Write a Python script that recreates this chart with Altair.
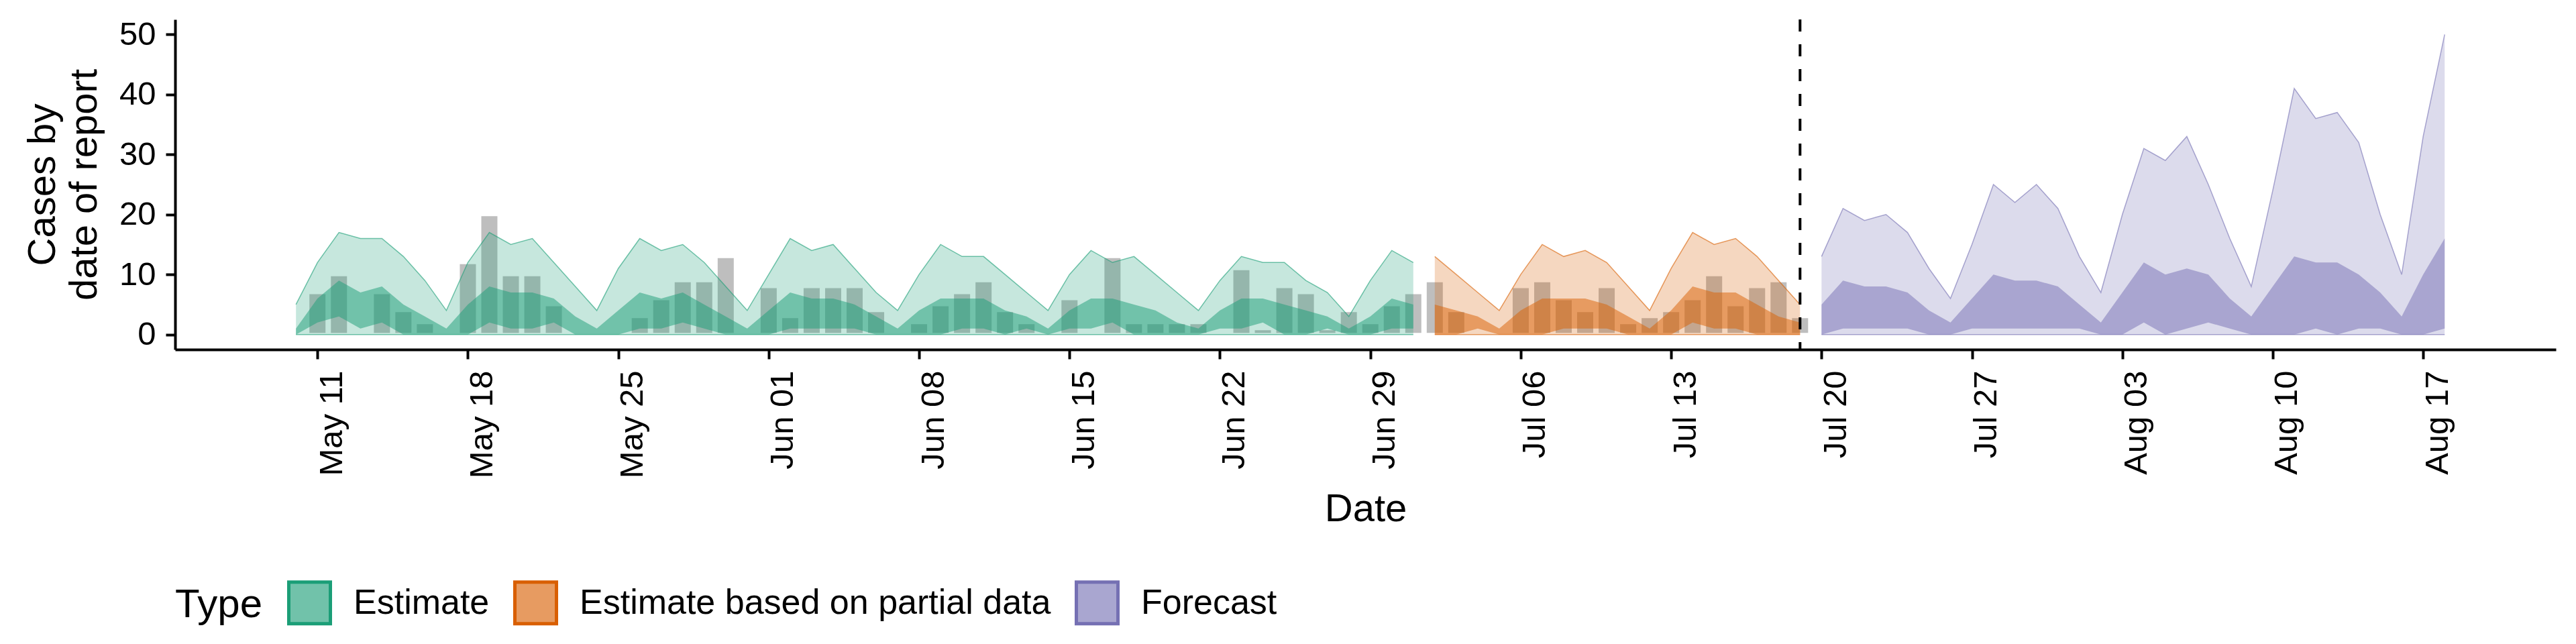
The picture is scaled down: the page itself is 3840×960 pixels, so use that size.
import pandas as pd
import altair as alt

# ---- data ----
type_names = ["Estimate", "Estimate based on partial data", "Forecast"]
dark_cols = ["#1b9e77", "#d95f02", "#7570b3"]
key_cols = ["#71c2aa", "#e79b61", "#a9a6d0"]

# reported cases (grey bars), 10 May - 19 Jul 2020
confirm = [0,
           7, 10, 0, 7, 4, 2, 0, 12, 20, 10,
           10, 5, 0, 0, 0, 3, 6, 9, 9, 13,
           0, 8, 3, 8, 8, 8, 4, 0, 2, 5,
           7, 9, 4, 2, 0, 6, 0, 13, 2, 2,
           2, 2, 0, 11, 1, 8, 7, 1, 4, 2,
           5, 7, 9, 4, 0, 0, 8, 9, 6, 4,
           8, 2, 3, 4, 6, 10, 5, 8, 9, 3]

# Estimate, 10 May - 1 Jul
est_hi90 = [5,
            12, 17, 16, 16, 13, 9, 4, 12, 17, 15,
            16, 12, 8, 4, 11, 16, 14, 15, 12, 8,
            4, 10, 16, 14, 15, 11, 7, 4, 10, 15,
            13, 13, 10, 7, 4, 10, 14, 12, 13, 10,
            7, 4, 9, 13, 12, 12, 9, 7, 3, 9,
            14, 12]
est_hi50 = [1,
            6, 9, 7, 8, 5, 3, 1, 5, 8, 7,
            7, 6, 3, 1, 4, 7, 6, 7, 5, 3,
            1, 4, 7, 6, 6, 5, 3, 1, 4, 6,
            6, 6, 4, 3, 1, 4, 6, 6, 5, 4,
            2, 1, 4, 6, 6, 5, 4, 3, 1, 3,
            6, 5]
est_lo50 = [0,
            2, 3, 1, 2, 0, 0, 0, 0, 2, 1,
            1, 2, 0, 0, 0, 1, 1, 2, 1, 0,
            0, 0, 1, 1, 1, 1, 0, 0, 0, 0,
            1, 1, 0, 1, 0, 1, 1, 2, 0, 0,
            0, 0, 1, 1, 2, 0, 0, 1, 0, 0,
            1, 1]

# Estimate based on partial data, 2 Jul - 19 Jul
part_hi90 = [13, 10, 7, 4, 10, 15, 13, 14, 12, 8, 4, 11, 17, 15, 16, 13, 9, 5]
part_hi50 = [5, 4, 3, 1, 4, 6, 6, 6, 5, 3, 1, 4, 8, 7, 7, 5, 3, 2]
part_lo50 = [0, 0, 1, 0, 0, 0, 1, 1, 1, 0, 0, 0, 2, 1, 1, 0, 0, 0]

# Forecast, 20 Jul - 18 Aug
fc_hi90 = [13, 21, 19, 20, 17, 11, 6, 15, 25, 22, 25, 21, 13, 7, 20,
           31, 29, 33, 25, 16, 8, 24, 41, 36, 37, 32, 20, 10, 33, 50]
fc_hi50 = [5, 9, 8, 8, 7, 4, 2, 6, 10, 9, 9, 8, 5, 2, 7,
           12, 10, 11, 10, 6, 3, 8, 13, 12, 12, 10, 7, 3, 10, 16]
fc_lo50 = [0, 1, 1, 1, 1, 0, 0, 1, 1, 1, 1, 1, 1, 0, 0,
           2, 0, 1, 2, 1, 0, 0, 0, 1, 0, 1, 1, 0, 0, 1]

tick_dates = pd.date_range("2020-05-11", "2020-08-17", freq="7D")
forecast_start = "2020-07-19"


def days(start, n):
    return pd.date_range(start, periods=n).strftime("%Y-%m-%d")


reported = pd.DataFrame({"date": days("2020-05-10", len(confirm)), "confirm": confirm})

est = pd.concat([
    pd.DataFrame({"date": days("2020-05-10", len(est_hi90)), "type": type_names[0],
                  "hi90": est_hi90, "hi50": est_hi50, "lo50": est_lo50}),
    pd.DataFrame({"date": days("2020-07-02", len(part_hi90)), "type": type_names[1],
                  "hi90": part_hi90, "hi50": part_hi50, "lo50": part_lo50}),
    pd.DataFrame({"date": days("2020-07-20", len(fc_hi90)), "type": type_names[2],
                  "hi90": fc_hi90, "hi50": fc_hi50, "lo50": fc_lo50}),
])

day_ms = 86400000
base = int(pd.Timestamp("2020-05-11", tz="UTC").timestamp() * 1000)
x_dom = [base - 6.47 * day_ms, base + 104.02 * day_ms]
tick_ms = [int(pd.Timestamp(d, tz="UTC").timestamp() * 1000) for d in tick_dates]

x_enc = alt.X("date:T", title="Date",
              scale=alt.Scale(type="utc", domain=x_dom),
              axis=alt.Axis(values=tick_ms,
                            labelExpr="utcFormat(datum.value, '%b %d')",
                            labelAngle=270, labelAlign="right", labelBaseline="top",
                            labelOffset=-3, labelPadding=17, titlePadding=18))
y_scale = alt.Scale(domain=[-2.5, 52.5], nice=False, zero=False)
y_axis = alt.Axis(values=[0, 10, 20, 30, 40, 50], labelPadding=15,
                  titlePadding=22, titleLineHeight=62)
# data-driven domain (sorts to the same order) so it is not merged with the key legend
type_col = alt.Color("type:N", scale=alt.Scale(range=dark_cols), legend=None)

bars = alt.Chart(reported).mark_bar(color="#bebebe", stroke="white", strokeWidth=5, width=29).encode(
    x=x_enc,
    y=alt.Y("confirm:Q", title=["Cases by", "date of report"], scale=y_scale, axis=y_axis),
    y2=alt.datum(0)
)

outer = alt.Chart(est).mark_area(opacity=0.25).encode(
    x="date:T", y="hi90:Q", y2=alt.datum(0), color=type_col)
inner = alt.Chart(est).mark_area(opacity=0.5).encode(
    x="date:T", y="lo50:Q", y2="hi50:Q", color=type_col)
upper = alt.Chart(est).mark_line(strokeWidth=1.5, opacity=0.6).encode(
    x="date:T", y="hi90:Q", color=type_col)
lower = alt.Chart(est).mark_line(strokeWidth=1.5, opacity=0.6).encode(
    x="date:T", y=alt.datum(0), color=type_col)

rule = alt.Chart(pd.DataFrame({"date": [forecast_start]})).mark_rule(
    color="black", strokeWidth=4, strokeDash=[18, 19]).encode(x="date:T")

key_legend = alt.Legend(
    orient="none", legendX=0, legendY=836, direction="horizontal",
    titleOrient="left", titleAnchor="middle", titleBaseline="middle",
    titleFontSize=60, titlePadding=36, labelFontSize=52, labelLimit=2000,
    labelOffset=32, columnPadding=27, symbolType="square", symbolSize=3844,
    symbolStrokeWidth=5, symbolOpacity=1, padding=0)

# legend keys: squares pushed far above the panel and clipped away
legend_df = pd.DataFrame({"type": type_names})
keys = alt.Chart(legend_df).mark_square(clip=True, size=100).encode(
    y=alt.datum(1000),
    fill=alt.Fill("type:N", title="Type", scale=alt.Scale(domain=type_names, range=key_cols),
                  legend=key_legend),
    stroke=alt.Stroke("type:N", title="Type", scale=alt.Scale(domain=type_names, range=dark_cols),
                      legend=key_legend),
)

chart = alt.layer(bars, outer, inner, upper, lower, rule, keys).properties(
    width=3549, height=492,
    autosize=alt.AutoSizeParams(type="none"),
    padding={"left": 253, "top": 21, "right": 20, "bottom": 420},
).configure_view(stroke=None).configure_axis(
    grid=False, domainColor="black", domainWidth=4, tickColor="black", tickWidth=4,
    tickSize=14, labelColor="black", labelFont="Liberation Sans", labelFontSize=49,
    titleFont="Liberation Sans", titleFontSize=58, titleFontWeight="normal", titleColor="black",
).configure_legend(
    titleFont="Liberation Sans", titleFontWeight="normal", titleColor="black",
    labelFont="Liberation Sans", labelColor="black",
)

chart.save("out.html", embed_options={"renderer": "svg", "actions": False})
